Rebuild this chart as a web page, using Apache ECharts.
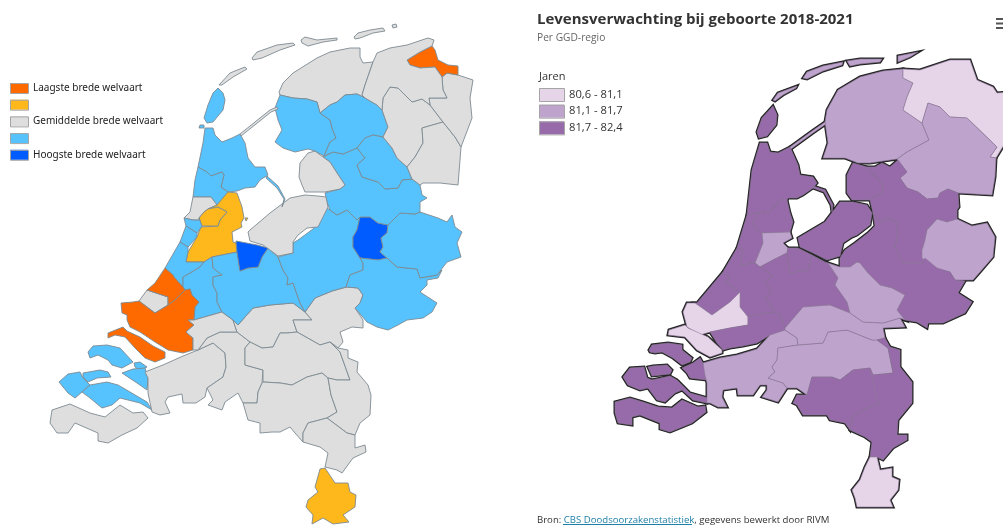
<!DOCTYPE html>
<html>
<head>
<meta charset="utf-8">
<title>Brede welvaart en levensverwachting</title>
<script src="https://cdn.jsdelivr.net/npm/echarts@6/dist/echarts.min.js"></script>
<style>
  html, body { margin: 0; padding: 0; background: #fff; }
  #chart { width: 1003px; height: 525px; }
</style>
</head>
<body>
<div id="chart"></div>
<script>
// --- left map: class per region (1 = lowest, 5 = highest)
var leftLabels = ['Laagste brede welvaart', ' ', 'Gemiddelde brede welvaart', ' ', 'Hoogste brede welvaart'];
var leftColors = ['#FF6A00', '#FFB81C', '#DEDEDE', '#56C3FF', '#005CFF'];
var leftNames = ['Vlieland','Terschelling','Ameland','Schiermonnikoog','Rottum','Texel','Vliehors','Kop van Noord-Holland','Alkmaar','IJmond','Groot-Amsterdam','Zaanstreek','Pampus','Haarlem','Bollenstreek','Leiden','Oost-Zuid-Holland','Delft en Westland','Den Haag','Rijnmond','Voorne','Schouwen','Tholen','Noord-Beveland','Walcheren','Zuid-Beveland','Bergen op Zoom','Zeeuws-Vlaanderen','West-Brabant','Midden-Brabant','Alblasserwaard','Rivierenland','Nijmegen','Noordoost-Brabant','Zuidoost-Brabant','Noord-Limburg','Midden-Limburg','Zuid-Limburg','Utrecht','Gooi','Veluwe','Apeldoorn','Achterhoek','Twente','Zwolle','Noordoostpolder','Flevoland','Friesland Noord','Zuidwest-Friesland','Zuidoost-Friesland','Zuidwest-Drenthe','Noord-Drenthe','Zuidoost-Drenthe','Oost-Groningen','Delfzijl','Overig Groningen','Afsluitdijk','Houtribdijk'];
var leftClass = [3,3,3,3,3,4,4,4,4,3,2,2,2,4,4,4,4,3,1,1,1,4,4,4,4,4,4,3,3,3,3,3,3,3,3,3,3,2,4,5,4,5,4,4,4,3,3,3,4,4,4,3,3,3,1,3,3,4];

// --- right map: life expectancy per GGD region (read per class from the picture)
var rightLabels = ['80,6 - 81,1', '81,1 - 81,7', '81,7 - 82,4'];
var rightBreaks = [80.6, 81.1, 81.7, 82.4];
var rightColors = ['#E6D5E8', '#BEA3CC', '#976BA9'];
var rightNames = ['Texel','Vlieland','Terschelling','Ameland','Schiermonnikoog','Friesland','Groningen','Drenthe','Hollands Noorden','Zaanstreek-Waterland','Kennemerland','Amsterdam','Flevoland','Gooi en Vechtstreek','Utrecht','Hollands Midden','Haaglanden','Den Haag','Voorne','Zuid-Holland Zuid','Schouwen','Noord-Beveland','Beveland','Tholen','Zeeuws-Vlaanderen','West-Brabant','Hart voor Brabant','Gelderland-Zuid','Brabant-Zuidoost','Limburg-Noord','Zuid-Limburg','IJsselland','Noord- en Oost-Gelderland','Twente','Gelderland-Midden','Utrecht-Oost','Afsluitdijk','Houtribdijk'];
var rightYears = [82.0,81.4,81.4,81.4,81.4,81.4,80.9,81.4,82.0,82.0,82.0,81.4,82.0,82.0,82.0,82.0,82.0,80.9,80.9,82.0,82.0,82.0,82.0,82.0,82.0,81.4,81.4,81.4,82.0,82.0,80.9,82.0,82.0,81.4,82.0,81.4,81.4,82.0];

// --- region outlines, used as map source
var leftShapes = {
  'Vlieland': [[219,85],[230,73],[245,67],[247,69],[233,77],[222,85]],
  'Terschelling': [[252,58],[257,52],[277,45],[293,43],[295,45],[280,50],[262,58],[253,60]],
  'Ameland': [[301,40],[305,37],[317,40],[337,38],[337,40],[323,42],[308,46],[302,43]],
  'Schiermonnikoog': [[354,37],[358,33],[370,30],[383,28],[385,31],[373,33],[360,38],[355,39]],
  'Rottum': [[392,25],[396,24],[397,27],[393,28]],
  'Texel': [[218,88],[223,93],[225,100],[223,110],[213,122],[207,123],[204,118],[208,105],[213,93]],
  'Vliehors': [[200,125],[204,125],[204,128],[199,128]],
  'Kop van Noord-Holland': [[205,128],[213,128],[215,135],[222,142],[232,138],[240,134],[245,143],[248,158],[255,167],[265,167],[268,175],[260,180],[255,187],[245,188],[237,191],[228,192],[221,187],[224,175],[222,172],[211,176],[207,172],[198,167],[203,143]],
  'Alkmaar': [[198,167],[207,172],[211,176],[222,172],[224,175],[221,187],[228,192],[217,205],[211,197],[193,197],[195,180]],
  'IJmond': [[193,197],[211,197],[217,205],[208,209],[204,212],[199,218],[200,220],[193,220],[184,218],[190,212]],
  'Groot-Amsterdam': [[228,192],[237,193],[242,207],[244,218],[241,223],[242,227],[232,232],[233,242],[236,243],[237,252],[212,257],[204,262],[186,262],[188,252],[197,237],[201,227],[218,226],[220,220],[227,212],[218,207],[208,209],[217,205]],
  'Zaanstreek': [[208,209],[218,207],[227,212],[220,220],[218,226],[202,226],[199,218],[204,212]],
  'Pampus': [[245,218],[248,218],[246,221]],
  'Haarlem': [[184,218],[193,220],[200,220],[199,218],[202,226],[201,227],[197,233],[186,226]],
  'Bollenstreek': [[186,226],[197,233],[197,237],[188,247],[180,242]],
  'Leiden': [[180,242],[188,247],[188,252],[186,262],[204,262],[200,267],[192,272],[183,277],[183,287],[174,277],[173,275],[165,268]],
  'Oost-Zuid-Holland': [[204,262],[212,257],[213,268],[222,275],[213,277],[213,285],[217,293],[217,302],[222,312],[194,320],[195,307],[199,302],[192,295],[190,289],[185,290],[183,287],[183,277],[192,272],[200,267]],
  'Delft en Westland': [[147,290],[168,297],[168,305],[155,313],[139,301]],
  'Den Haag': [[147,290],[155,283],[165,268],[173,275],[174,277],[183,287],[185,290],[175,300],[168,305],[168,297]],
  'Rijnmond': [[185,290],[190,289],[192,295],[199,302],[195,307],[194,318],[194,320],[188,320],[194,325],[186,332],[193,338],[193,350],[183,353],[168,350],[155,342],[140,332],[130,327],[127,320],[127,315],[122,313],[121,303],[133,302],[139,301],[155,313],[168,305],[175,300]],
  'Voorne': [[108,333],[123,327],[127,331],[140,337],[153,346],[165,352],[165,358],[155,362],[145,358],[135,348],[125,337],[115,335],[108,338]],
  'Schouwen': [[88,352],[93,346],[107,345],[120,348],[133,362],[122,368],[112,365],[108,360],[98,355],[90,358]],
  'Tholen': [[134,363],[140,362],[147,367],[140,370],[135,367]],
  'Noord-Beveland': [[83,373],[100,370],[108,372],[111,377],[97,378],[88,382],[83,377]],
  'Walcheren': [[59,382],[68,374],[80,372],[83,378],[90,385],[82,392],[75,398],[68,393]],
  'Zuid-Beveland': [[90,385],[107,382],[118,385],[130,392],[147,402],[152,410],[140,403],[120,398],[112,405],[102,408],[90,398],[82,392]],
  'Bergen op Zoom': [[122,373],[133,369],[145,368],[148,378],[147,390],[137,383]],
  'Zeeuws-Vlaanderen': [[52,410],[70,404],[90,413],[105,417],[120,405],[133,413],[143,412],[148,418],[137,428],[122,435],[108,443],[98,441],[98,433],[75,423],[68,433],[57,433],[50,423]],
  'West-Brabant': [[145,372],[163,365],[183,356],[198,350],[213,343],[225,353],[226,367],[223,377],[207,388],[205,397],[196,403],[183,403],[182,394],[168,397],[165,402],[170,413],[160,415],[152,412],[148,393],[148,378]],
  'Midden-Brabant': [[198,350],[207,338],[220,332],[237,332],[250,342],[245,348],[245,365],[263,370],[262,383],[258,392],[257,403],[243,403],[238,393],[225,402],[222,410],[208,405],[213,400],[207,388],[223,377],[226,367],[225,353],[213,343]],
  'Alblasserwaard': [[194,320],[222,312],[233,320],[237,332],[220,332],[207,338],[198,350],[193,350],[193,338],[186,332],[194,325],[188,320]],
  'Rivierenland': [[233,320],[238,325],[253,308],[270,305],[293,303],[305,312],[312,320],[293,320],[297,332],[287,333],[280,333],[273,347],[262,348],[250,342],[237,332]],
  'Nijmegen': [[305,312],[315,298],[332,291],[347,287],[358,288],[363,295],[360,303],[355,308],[363,320],[363,328],[352,327],[340,332],[343,342],[338,348],[330,342],[320,345],[297,332],[293,320],[312,320]],
  'Noordoost-Brabant': [[250,342],[262,348],[273,347],[280,333],[287,333],[297,332],[320,345],[330,342],[340,352],[350,380],[337,380],[328,378],[322,373],[307,377],[292,385],[280,383],[263,382],[263,370],[245,365],[245,348]],
  'Zuidoost-Brabant': [[262,383],[258,392],[257,403],[243,403],[248,420],[260,423],[260,433],[272,432],[280,432],[290,427],[295,433],[303,442],[303,433],[308,423],[327,418],[337,412],[331,395],[328,378],[322,373],[307,377],[292,385],[280,383],[263,382]],
  'Noord-Limburg': [[330,342],[338,348],[348,350],[348,358],[358,362],[357,372],[368,385],[371,395],[370,415],[360,423],[355,435],[347,433],[327,418],[337,412],[331,395],[328,378],[337,380],[350,380],[340,352]],
  'Midden-Limburg': [[327,418],[347,433],[355,435],[355,448],[365,445],[366,452],[353,458],[342,473],[337,470],[325,467],[328,453],[320,447],[303,442],[303,433],[308,423]],
  'Zuid-Limburg': [[320,469],[325,468],[335,483],[348,483],[350,492],[356,495],[355,507],[343,515],[349,522],[333,524],[323,518],[312,524],[313,515],[306,507],[308,500],[318,492],[315,487]],
  'Utrecht': [[212,257],[237,252],[240,271],[248,268],[258,267],[262,257],[268,248],[278,257],[283,270],[288,278],[287,285],[293,283],[300,303],[305,312],[293,303],[270,305],[253,308],[238,325],[233,320],[222,312],[217,302],[217,293],[213,285],[213,277],[222,275],[213,268]],
  'Gooi': [[236,241],[257,245],[268,248],[262,257],[258,267],[248,268],[240,271],[237,252]],
  'Veluwe': [[278,257],[293,253],[293,243],[298,240],[313,229],[327,208],[330,210],[337,215],[347,210],[357,220],[360,217],[357,230],[353,237],[353,247],[360,258],[363,263],[363,270],[350,275],[346,287],[332,291],[315,298],[305,312],[300,303],[293,283],[287,285],[288,278],[283,270]],
  'Apeldoorn': [[360,217],[370,217],[378,223],[388,225],[387,233],[381,238],[383,247],[380,252],[387,258],[378,260],[360,258],[353,247],[353,237],[357,230]],
  'Achterhoek': [[360,258],[378,260],[387,258],[397,267],[417,269],[420,278],[437,275],[442,270],[438,278],[427,280],[427,285],[420,292],[437,303],[432,312],[423,318],[407,320],[398,325],[388,330],[377,327],[367,322],[355,308],[360,303],[363,295],[358,288],[346,287],[350,275],[363,270],[363,263]],
  'Twente': [[388,225],[393,220],[400,213],[415,214],[420,212],[438,218],[447,222],[452,215],[455,227],[462,232],[457,243],[461,257],[447,262],[437,275],[420,278],[417,269],[397,267],[387,258],[380,252],[383,247],[381,238],[387,233]],
  'Zwolle': [[323,157],[333,152],[343,154],[357,148],[365,158],[357,165],[362,177],[378,182],[385,189],[398,188],[402,180],[412,179],[420,185],[422,195],[427,198],[420,202],[420,212],[415,214],[400,213],[393,220],[388,225],[378,223],[370,217],[360,217],[357,220],[347,210],[337,215],[330,210],[327,202],[325,193],[340,189],[345,185],[337,173],[330,162]],
  'Noordoostpolder': [[300,163],[308,153],[315,151],[323,157],[330,162],[337,173],[345,185],[340,189],[325,192],[305,192],[302,185],[299,177]],
  'Flevoland': [[250,230],[270,213],[290,198],[305,195],[318,196],[326,197],[328,207],[325,213],[318,227],[307,228],[298,235],[293,242],[293,253],[278,256],[270,250],[263,245],[250,241],[248,232]],
  'Friesland Noord': [[279,92],[283,83],[293,73],[317,58],[330,52],[350,48],[360,48],[360,57],[363,63],[373,62],[365,85],[362,95],[365,98],[357,94],[345,95],[337,102],[330,105],[320,113],[317,102],[307,99],[293,98],[280,95]],
  'Zuidwest-Friesland': [[280,95],[293,98],[307,99],[317,102],[320,113],[330,120],[332,128],[336,138],[330,142],[324,156],[315,151],[308,149],[295,152],[283,148],[275,142],[282,130],[278,120],[275,108]],
  'Zuidoost-Friesland': [[320,113],[330,105],[337,102],[345,95],[357,94],[365,98],[377,105],[382,110],[388,127],[383,137],[373,135],[365,138],[357,148],[343,154],[333,152],[324,156],[330,142],[336,138],[332,128],[330,120]],
  'Zuidwest-Drenthe': [[357,148],[365,138],[373,135],[383,137],[392,148],[397,158],[407,167],[412,179],[402,180],[398,188],[385,189],[378,182],[362,177],[357,165],[365,158]],
  'Noord-Drenthe': [[383,137],[388,127],[382,110],[383,98],[390,87],[398,88],[412,102],[422,99],[430,105],[443,122],[422,128],[423,143],[415,157],[407,167],[397,158],[392,148]],
  'Zuidoost-Drenthe': [[443,122],[455,137],[461,147],[458,185],[440,183],[423,183],[420,185],[412,179],[407,167],[415,157],[423,143],[422,128]],
  'Oost-Groningen': [[442,77],[443,90],[447,98],[429,98],[430,105],[443,122],[455,137],[461,147],[472,118],[470,98],[473,80],[458,75],[447,73]],
  'Delfzijl': [[407,60],[420,52],[432,46],[435,50],[438,60],[448,65],[458,66],[458,75],[447,73],[442,77],[435,67],[420,68],[410,65]],
  'Overig Groningen': [[373,62],[377,53],[390,48],[407,45],[428,38],[434,40],[432,46],[420,52],[407,60],[410,65],[420,68],[435,67],[442,77],[443,90],[447,98],[429,98],[430,105],[422,99],[412,102],[398,88],[390,87],[383,98],[382,110],[377,105],[365,98],[362,95],[365,85]],
  'Afsluitdijk': [[240,134],[270,110],[277,107],[278,109],[271,112],[241,136]],
  'Houtribdijk': [[267,176],[278,186],[285,199],[282,207],[284,199],[277,188],[266,178]]
};

var rightShapes = {
  'Texel': [[773,106],[777,115],[776,125],[767,136],[759,138],[757,132],[762,118]],
  'Vlieland': [[773,100],[778,93],[797,86],[796,88],[783,95],[775,101]],
  'Terschelling': [[803,78],[807,72],[823,66],[843,62],[842,65],[823,71],[807,79]],
  'Ameland': [[847,61],[860,59],[882,59],[880,62],[860,64],[850,66]],
  'Schiermonnikoog': [[898,56],[918,52],[910,57],[898,62]],
  'Friesland': [[827,110],[838,90],[860,77],[883,71],[903,69],[903,78],[913,83],[907,97],[903,110],[922,123],[929,140],[907,152],[897,159],[870,163],[858,163],[845,158],[823,158],[828,143],[825,122]],
  'Groningen': [[903,69],[920,70],[950,60],[970,60],[977,80],[993,87],[997,93],[1010,92],[1010,135],[996,158],[990,157],[997,147],[967,118],[950,117],[940,107],[928,103],[922,123],[903,110],[907,97],[913,83],[903,78]],
  'Drenthe': [[922,123],[929,140],[907,152],[897,159],[907,172],[900,178],[907,188],[918,192],[927,199],[938,198],[940,193],[948,189],[958,193],[992,195],[995,177],[996,158],[990,157],[997,147],[967,118],[950,117],[940,107],[928,103]],
  'Hollands Noorden': [[760,143],[767,143],[770,152],[778,153],[790,147],[798,165],[800,175],[813,177],[817,183],[813,188],[803,195],[797,198],[788,198],[787,200],[780,200],[768,213],[760,212],[747,215],[752,170]],
  'Zaanstreek-Waterland': [[787,200],[790,213],[793,222],[790,232],[762,233],[755,228],[753,222],[760,212],[768,213],[780,200]],
  'Kennemerland': [[747,215],[760,212],[753,222],[755,228],[762,233],[763,243],[755,263],[740,265],[743,250],[737,248]],
  'Amsterdam': [[762,233],[790,232],[792,238],[783,243],[788,248],[787,253],[773,260],[760,267],[755,263],[763,243]],
  'Flevoland': [[798,238],[825,222],[840,202],[853,202],[867,205],[872,213],[870,225],[857,235],[852,237],[843,243],[840,256],[827,260],[813,253],[800,247]],
  'Gooi en Vechtstreek': [[788,248],[798,248],[812,255],[808,270],[790,273],[787,253]],
  'Utrecht': [[760,267],[773,260],[787,253],[790,273],[808,270],[812,255],[825,262],[828,263],[838,278],[835,285],[847,302],[850,313],[830,305],[803,307],[785,328],[778,312],[775,312],[765,298],[772,292],[765,282],[773,275]],
  'Hollands Midden': [[737,248],[743,250],[740,265],[755,263],[760,267],[773,275],[765,282],[772,292],[765,298],[775,312],[767,313],[748,317],[740,307],[740,293],[730,285],[725,282],[730,278],[723,272]],
  'Haaglanden': [[723,272],[730,278],[725,282],[730,285],[740,293],[730,302],[712,315],[695,303],[697,303]],
  'Den Haag': [[687,303],[695,303],[712,315],[730,302],[740,292],[740,307],[748,317],[748,325],[730,328],[710,332],[700,335],[687,327],[683,312]],
  'Voorne': [[669,330],[685,325],[688,328],[708,337],[722,350],[722,353],[710,357],[697,350],[685,337],[668,335]],
  'Zuid-Holland Zuid': [[710,332],[730,328],[748,325],[748,317],[767,313],[775,312],[778,312],[785,328],[785,330],[770,335],[757,343],[743,346],[730,348],[723,350],[717,343]],
  'Schouwen': [[649,350],[652,345],[668,343],[682,345],[682,350],[692,358],[690,362],[682,365],[673,358],[662,352],[655,353],[650,352]],
  'Noord-Beveland': [[648,367],[653,366],[667,365],[672,370],[670,374],[652,376]],
  'Beveland': [[623,377],[630,368],[644,367],[647,378],[652,380],[670,376],[677,380],[690,393],[708,398],[707,403],[693,400],[682,390],[675,393],[665,402],[657,400],[648,388],[640,390],[628,385]],
  'Tholen': [[682,368],[693,363],[700,358],[703,363],[707,380],[690,378],[687,373]],
  'Zeeuws-Vlaanderen': [[615,402],[630,398],[643,402],[658,407],[672,408],[682,400],[698,407],[705,406],[706,412],[692,423],[670,432],[660,429],[660,423],[640,415],[632,417],[632,425],[618,423],[615,413]],
  'West-Brabant': [[703,363],[720,358],[737,355],[757,349],[770,335],[785,330],[797,338],[798,345],[778,348],[777,360],[772,367],[775,372],[768,378],[783,383],[787,388],[778,402],[762,397],[767,390],[767,385],[760,385],[753,395],[738,395],[737,388],[723,390],[722,397],[727,407],[718,407],[710,403],[707,403],[707,383],[705,375]],
  'Hart voor Brabant': [[778,348],[798,345],[823,343],[828,332],[847,330],[872,340],[877,340],[888,348],[893,373],[873,375],[870,368],[853,370],[840,380],[832,377],[812,377],[807,395],[797,388],[787,388],[783,383],[768,378],[775,372],[772,367],[777,360]],
  'Gelderland-Zuid': [[785,328],[803,307],[830,305],[850,313],[863,322],[883,323],[900,318],[905,327],[883,328],[885,338],[877,340],[872,340],[847,330],[828,332],[823,343],[798,345],[797,338],[785,330]],
  'Brabant-Zuidoost': [[807,395],[812,377],[832,377],[840,380],[853,370],[870,368],[873,375],[877,400],[880,403],[863,410],[852,417],[850,430],[845,423],[830,420],[827,415],[803,415],[797,405],[793,403],[797,395]],
  'Limburg-Noord': [[870,368],[873,375],[893,373],[888,348],[877,340],[885,338],[890,347],[900,350],[900,367],[912,382],[912,403],[898,420],[897,435],[907,435],[907,440],[893,448],[883,460],[877,457],[870,457],[872,442],[865,437],[850,430],[852,417],[863,410],[880,403],[877,400]],
  'Zuid-Limburg': [[870,457],[877,457],[880,470],[892,468],[892,477],[899,480],[898,490],[890,500],[893,507],[870,507],[857,507],[855,498],[852,490],[860,480],[865,467]],
  'IJsselland': [[847,175],[853,163],[867,167],[882,183],[883,192],[870,200],[852,200],[847,193]],
  'Noord- en Oost-Gelderland': [[867,167],[875,167],[882,163],[890,167],[898,160],[907,172],[900,178],[907,188],[918,192],[927,199],[938,198],[940,193],[948,189],[958,193],[959,207],[957,210],[957,219],[947,222],[937,219],[927,230],[925,240],[922,250],[925,258],[922,263],[903,263],[898,253],[895,247],[898,233],[897,223],[890,218],[880,222],[873,213],[870,200],[883,192],[882,183]],
  'Twente': [[937,219],[947,222],[957,219],[972,226],[987,223],[995,237],[993,257],[980,272],[973,280],[955,280],[950,272],[935,268],[922,258],[922,250],[925,240],[927,230]],
  'Gelderland-Midden': [[873,213],[880,222],[890,218],[897,223],[898,233],[895,247],[898,253],[903,263],[922,263],[925,258],[937,268],[950,272],[955,280],[965,281],[958,293],[972,302],[965,313],[943,323],[928,323],[927,328],[917,322],[905,320],[897,310],[905,295],[892,288],[880,285],[868,273],[860,263],[857,262],[850,267],[840,267],[840,258],[845,250],[855,243],[868,233],[875,226]],
  'Utrecht-Oost': [[828,263],[840,267],[850,267],[857,262],[860,263],[868,273],[880,285],[892,288],[905,295],[897,310],[905,320],[900,318],[883,323],[863,322],[850,313],[847,302],[835,285],[838,278]],
  'Afsluitdijk': [[790,147],[812,131],[825,122],[826,124],[813,133],[791,149]],
  'Houtribdijk': [[813,186],[825,190],[833,205],[832,212],[831,205],[824,192],[813,188]]
};

function toGeoJson(shapes) {
  var features = [];
  for (var name in shapes) {
    features.push({
      type: 'Feature',
      properties: { name: name },
      geometry: { type: 'Polygon', coordinates: [shapes[name].concat([shapes[name][0]])] }
    });
  }
  return { type: 'FeatureCollection', features: features };
}

function toData(names, values) {
  return names.map(function (n, i) { return { name: n, value: values[i] }; });
}

echarts.registerMap('nlLeft', toGeoJson(leftShapes));
echarts.registerMap('nlRight', toGeoJson(rightShapes));
echarts.registerMap('nlRightCoast', toGeoJson(rightShapes));

// shapes are already in page pixels, so the projection passes them through
var pagePixels = {
  project: function (p) { return [p[0], p[1]]; },
  unproject: function (p) { return [p[0], p[1]]; }
};

function mapSeries(mapName, data, style) {
  return {
    type: 'map',
    map: mapName,
    projection: pagePixels,
    boundingCoords: [[0, 0], [1003, 525]],
    left: 0,
    top: 0,
    width: 1003,
    height: 525,
    silent: true,
    roam: false,
    label: { show: false },
    emphasis: { disabled: true },
    select: { disabled: true },
    itemStyle: style,
    data: data
  };
}

// grey frame round a legend swatch
function swatchFrame(x, y, w, h) {
  return { type: 'rect', z: 100, shape: { x: x, y: y, width: w, height: h }, style: { fill: 'none', stroke: '#a5a5a5', lineWidth: 1 } };
}

var myChart = echarts.init(document.getElementById('chart'), null, { renderer: 'canvas' });
var sansFont = '"Open Sans", sans-serif';

var frames = [];
leftLabels.forEach(function (l, i) { frames.push(swatchFrame(10.5, 83.5 + 16.7 * i, 18, 10)); });
rightLabels.forEach(function (l, i) { frames.push(swatchFrame(539.5, 88.5 + 16.7 * i, 25, 13)); });

var option = {
  animation: false,
  backgroundColor: '#fff',
  title: [
    {
      text: 'Levensverwachting bij geboorte 2018-2021',
      left: 537, top: 12, padding: 0,
      textStyle: { fontFamily: sansFont, fontSize: 15, fontWeight: 'bold', color: '#333' }
    },
    {
      text: 'Per GGD-regio',
      left: 537, top: 33, padding: 0,
      textStyle: { fontFamily: sansFont, fontSize: 10.2, fontWeight: 'normal', color: '#666' }
    },
    {
      text: 'Jaren',
      left: 539, top: 71, padding: 0,
      textStyle: { fontFamily: sansFont, fontSize: 11, fontWeight: 'normal', color: '#333' }
    },
    {
      text: 'Bron: {link|CBS Doodsoorzakenstatistiek}, gegevens bewerkt door RIVM',
      left: 537, top: 515, padding: 0,
      textStyle: {
        fontFamily: sansFont, fontSize: 9.6, fontWeight: 'normal', color: '#333',
        rich: { link: { fontFamily: sansFont, fontSize: 9.6, color: '#1F7FA8' } }
      }
    }
  ],
  visualMap: [
    {
      type: 'piecewise',
      seriesIndex: 0,
      orient: 'vertical',
      inverse: true,
      align: 'left',
      itemSymbol: 'rect',
      left: 10, top: 83,
      itemWidth: 18, itemHeight: 10, itemGap: 6.7, textGap: 5,
      hoverLink: false,
      selectedMode: false,
      padding: 0,
      textStyle: { fontFamily: '"Noto Sans", sans-serif', fontSize: 10, color: '#222' },
      pieces: leftLabels.map(function (l, i) {
        return { value: i + 1, label: l, color: leftColors[i] };
      })
    },
    {
      type: 'piecewise',
      seriesIndex: 2,
      orient: 'vertical',
      inverse: true,
      align: 'left',
      itemSymbol: 'rect',
      left: 539, top: 88,
      itemWidth: 25, itemHeight: 13, itemGap: 3.7, textGap: 5,
      hoverLink: false,
      selectedMode: false,
      padding: 0,
      textStyle: { fontFamily: sansFont, fontSize: 11.2, color: '#333' },
      pieces: rightLabels.map(function (l, i) {
        return { gte: rightBreaks[i], lt: rightBreaks[i + 1], label: l, color: rightColors[i] };
      })
    }
  ],
  series: [
    mapSeries('nlLeft', toData(leftNames, leftClass), { borderColor: '#7d8a92', borderWidth: 0.9 }),
    mapSeries('nlRightCoast', [], { areaColor: '#222', borderColor: '#222', borderWidth: 3 }),
    mapSeries('nlRight', toData(rightNames, rightYears), { borderColor: '#8f7a9c', borderWidth: 0.6 })
  ],
  graphic: frames.concat([
    { type: 'rect', shape: { x: 996, y: 18, width: 8, height: 2 }, style: { fill: '#555' } },
    { type: 'rect', shape: { x: 996, y: 22.5, width: 8, height: 2 }, style: { fill: '#555' } },
    { type: 'rect', shape: { x: 996, y: 27, width: 8, height: 2 }, style: { fill: '#555' } },
    { type: 'rect', shape: { x: 563, y: 524, width: 129, height: 1 }, style: { fill: '#1F7FA8' } }
  ])
};
myChart.setOption(option, true);
</script>
</body>
</html>
